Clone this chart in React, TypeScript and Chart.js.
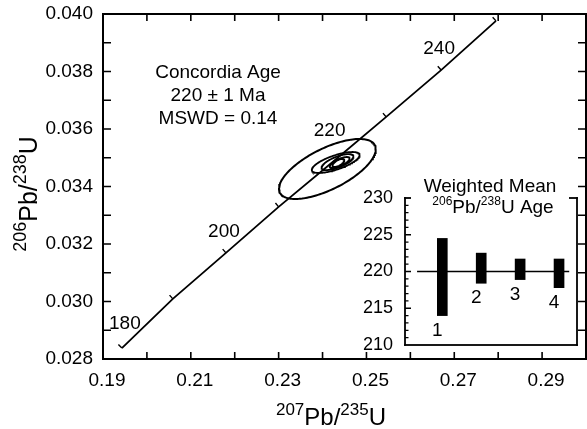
import React, { useEffect, useRef } from "react";
import { Chart, registerables } from "chart.js";
Chart.register(...registerables);

const FONT = "'Liberation Sans', Arial, Helvetica, sans-serif";

// Concordia curve (age in Ma -> 207Pb/235U, 206Pb/238U)
const concordiaAges = [180, 190, 200, 210, 220, 230, 240, 250];
const concordiaX = [0.1943, 0.2059, 0.218, 0.23, 0.2423, 0.2545, 0.267, 0.2795];
const concordiaY = [0.02838, 0.03009, 0.03169, 0.03329, 0.03485, 0.03642, 0.03805, 0.03976];
const concordiaLabelAges = [180, 200, 220, 240];

// Error ellipses: centre, half-width (x), half-height (y), correlation
const ellipseCx = [0.2411, 0.243, 0.2434, 0.2439, 0.2436];
const ellipseCy = [0.03461, 0.034835, 0.03485, 0.034835, 0.03482];
const ellipseHx = [0.01102, 0.00545, 0.00364, 0.00227, 0.00136];
const ellipseHy = [0.001043, 0.000365, 0.000278, 0.000191, 0.000139];
const ellipseRho = [0.66, 0.7, 0.7, 0.7, 0.6];

// Axis tick labels
const xTickLabels = ["0.19", "0.21", "0.23", "0.25", "0.27", "0.29"];
const yTickLabels = ["0.028", "0.030", "0.032", "0.034", "0.036", "0.038", "0.040"];

// Inset: weighted mean 206Pb/238U ages
const grainLabels = ["1", "2", "3", "4"];
const grainLow = [214, 218.4, 218.9, 217.8];
const grainHigh = [224.5, 222.5, 221.7, 221.7];
const weightedMean = 220;
const meanLineFrom = 0.48;
const meanLineTo = 4.39;
const insetTickLabels = ["210", "215", "220", "225", "230"];

const annotationLines = ["Concordia Age", "220 \u00b1 1 Ma", "MSWD = 0.14"];

// Layout of the inset box inside the canvas (pixels)
const INSET = { left: 405, right: 577, top: 198, bottom: 345 };

type Part = { t: string; sup?: boolean };

function drawRich(ctx: CanvasRenderingContext2D, parts: Part[], x: number, y: number, big: number, small: number, rise: number) {
  let total = 0;
  const widths = parts.map((p) => {
    ctx.font = `${p.sup ? small : big}px ${FONT}`;
    const w = ctx.measureText(p.t).width;
    total += w;
    return w;
  });
  let cx = x - total / 2;
  ctx.textAlign = "left";
  ctx.textBaseline = "alphabetic";
  parts.forEach((p, i) => {
    ctx.font = `${p.sup ? small : big}px ${FONT}`;
    ctx.fillText(p.t, cx, p.sup ? y - rise : y);
    cx += widths[i];
  });
}

function ellipsePoints(i: number) {
  const pts: { x: number; y: number }[] = [];
  const rho = ellipseRho[i];
  const s = Math.sqrt(1 - rho * rho);
  const n = 160;
  for (let k = 0; k <= n; k++) {
    const t = (2 * Math.PI * k) / n;
    pts.push({
      x: ellipseCx[i] + ellipseHx[i] * Math.cos(t),
      y: ellipseCy[i] + ellipseHy[i] * (rho * Math.cos(t) + s * Math.sin(t)),
    });
  }
  return pts;
}

function frame(ctx: CanvasRenderingContext2D, a: any, w: number) {
  const h = w / 2;
  ctx.fillRect(a.left - h, a.top - h, a.right - a.left + w, w);
  ctx.fillRect(a.left - h, a.bottom - h, a.right - a.left + w, w);
  ctx.fillRect(a.left - h, a.top - h, w, a.bottom - a.top + w);
  ctx.fillRect(a.right - h, a.top - h, w, a.bottom - a.top + w);
}

const decor = {
  id: "decor",
  afterLayout(chart: any) {
    const xi = chart.scales.xi;
    const yi = chart.scales.yi;
    xi.left = INSET.left;
    xi.right = INSET.right;
    xi.width = INSET.right - INSET.left;
    xi.configure();
    yi.top = INSET.top;
    yi.bottom = INSET.bottom;
    yi.height = INSET.bottom - INSET.top;
    yi.configure();
  },
  beforeDatasetsDraw(chart: any) {
    const ctx: CanvasRenderingContext2D = chart.ctx;
    ctx.save();
    ctx.fillStyle = "#ffffff";
    ctx.fillRect(INSET.left, INSET.top, INSET.right - INSET.left, INSET.bottom - INSET.top);
    ctx.restore();
  },
  afterDatasetsDraw(chart: any) {
    const ctx: CanvasRenderingContext2D = chart.ctx;
    const a = chart.chartArea;
    ctx.save();
    ctx.strokeStyle = "#000000";
    ctx.lineWidth = 2;
    ctx.strokeRect(a.left, a.top, a.right - a.left, a.bottom - a.top);
    ctx.restore();
  },
  afterDraw(chart: any) {
    const ctx: CanvasRenderingContext2D = chart.ctx;
    const a = chart.chartArea;
    const x = chart.scales.x;
    const y = chart.scales.y;
    const xi = chart.scales.xi;
    const yi = chart.scales.yi;
    ctx.save();
    ctx.strokeStyle = "#000";
    ctx.fillStyle = "#000";
    frame(ctx, a, 2);
    // inward ticks
    ctx.lineWidth = 1.6;
    ctx.beginPath();
    x.ticks.forEach((t: any) => {
      const px = x.getPixelForValue(t.value);
      if (px <= a.left + 1 || px >= a.right - 1) return;
      ctx.moveTo(px, a.bottom);
      ctx.lineTo(px, a.bottom - 7);
      ctx.moveTo(px, a.top);
      ctx.lineTo(px, a.top + 7);
    });
    y.ticks.forEach((t: any) => {
      const py = y.getPixelForValue(t.value);
      if (py <= a.top + 1 || py >= a.bottom - 1) return;
      ctx.moveTo(a.left, py);
      ctx.lineTo(a.left + 8, py);
      ctx.moveTo(a.right, py);
      ctx.lineTo(a.right - 8, py);
    });
    ctx.stroke();
    // concordia age marks
    ctx.lineWidth = 1.4;
    ctx.beginPath();
    concordiaAges.forEach((age, i) => {
      if (age === 220) return;
      const px = x.getPixelForValue(concordiaX[i]);
      const py = y.getPixelForValue(concordiaY[i]);
      const j = i < concordiaAges.length - 1 ? i + 1 : i - 1;
      let dx = x.getPixelForValue(concordiaX[j]) - px;
      let dy = y.getPixelForValue(concordiaY[j]) - py;
      if (j < i) { dx = -dx; dy = -dy; }
      const len = Math.hypot(dx, dy);
      const nx = dy / len;
      const ny = -dx / len;
      const sx = ny < 0 ? nx : -nx;
      const sy = ny < 0 ? ny : -ny;
      ctx.moveTo(px, py);
      ctx.lineTo(px + sx * 5, py + sy * 5);
    });
    ctx.stroke();
    // age labels
    ctx.font = `19px ${FONT}`;
    ctx.textAlign = "center";
    ctx.textBaseline = "middle";
    concordiaLabelAges.forEach((age) => {
      const i = concordiaAges.indexOf(age);
      const px = x.getPixelForValue(concordiaX[i]);
      const py = y.getPixelForValue(concordiaY[i]);
      const off = age === 220 ? [-3, -31] : age === 180 ? [3, -24] : [-2, -21];
      ctx.fillText(String(age), px + off[0], py + off[1]);
    });
    // annotation block
    annotationLines.forEach((s, k) => {
      ctx.fillText(s, a.left + 115, a.top + 59 + k * 23);
    });
    // axis titles
    drawRich(ctx, [{ t: "207", sup: true }, { t: "Pb/" }, { t: "235", sup: true }, { t: "U" }], 331, 425, 24, 17, 10);
    ctx.save();
    ctx.translate(37, 194);
    ctx.rotate(-Math.PI / 2);
    drawRich(ctx, [{ t: "206", sup: true }, { t: "Pb/" }, { t: "238", sup: true }, { t: "U" }], 0, 0, 25, 18, 11);
    ctx.restore();

    // ---- inset ----
    ctx.fillStyle = "#000";
    frame(ctx, INSET, 1.8);
    ctx.lineWidth = 1.3;
    ctx.beginPath();
    for (let v = 211; v < 230; v++) {
      const py = yi.getPixelForValue(v);
      ctx.moveTo(INSET.left, py);
      ctx.lineTo(INSET.left + (v % 5 === 0 ? 6 : 3.5), py);
    }
    ctx.stroke();
    // gap in the inset's top border for its title
    ctx.fillStyle = "#ffffff";
    ctx.fillRect(INSET.left + 6, INSET.top - 3, INSET.right - INSET.left - 14, 6);
    ctx.fillStyle = "#000";
    ctx.font = `19px ${FONT}`;
    ctx.textAlign = "center";
    ctx.textBaseline = "alphabetic";
    ctx.fillText("Weighted Mean", INSET.left + 85, INSET.top - 6);
    drawRich(ctx, [{ t: "206", sup: true }, { t: "Pb/" }, { t: "238", sup: true }, { t: "U Age" }], INSET.left + 88, INSET.top + 15, 19, 12, 8);
    // inset y tick labels
    ctx.font = `18px ${FONT}`;
    ctx.textAlign = "right";
    ctx.textBaseline = "middle";
    insetTickLabels.forEach((s) => {
      ctx.fillText(s, INSET.left - 12, yi.getPixelForValue(Number(s)));
    });
    // grain labels
    ctx.font = `19px ${FONT}`;
    ctx.textAlign = "center";
    grainLabels.forEach((g, i) => {
      const px = xi.getPixelForValue(i + 1);
      const py = yi.getPixelForValue(grainLow[i]);
      ctx.fillText(g, px, py + 15);
    });
    ctx.restore();
  },
};

export default function App() {
  const mainRef = useRef<HTMLCanvasElement>(null);

  useEffect(() => {
    const datasets: any[] = [
      {
        label: "Concordia",
        data: concordiaX.map((v, i) => ({ x: v, y: concordiaY[i] })),
        showLine: true,
        borderColor: "#000",
        borderWidth: 1.8,
        pointRadius: 0,
        xAxisID: "x",
        yAxisID: "y",
      },
      ...ellipseCx.map((_, i) => ({
        label: `Ellipse ${i + 1}`,
        data: ellipsePoints(i),
        showLine: true,
        borderColor: "#000",
        borderWidth: i === 0 ? 2 : 1.8,
        pointRadius: 0,
        xAxisID: "x",
        yAxisID: "y",
      })),
      {
        type: "bar",
        label: "Grains",
        data: grainLabels.map((_, i) => ({ x: i + 1, y: [grainLow[i], grainHigh[i]] })),
        backgroundColor: "#000",
        borderWidth: 0,
        barThickness: 10,
        xAxisID: "xi",
        yAxisID: "yi",
      },
      {
        type: "line",
        label: "Weighted mean",
        data: [
          { x: meanLineFrom, y: weightedMean },
          { x: meanLineTo, y: weightedMean },
        ],
        borderColor: "#000",
        borderWidth: 1.5,
        pointRadius: 0,
        showLine: true,
        xAxisID: "xi",
        yAxisID: "yi",
      },
    ];

    const main = new Chart(mainRef.current as HTMLCanvasElement, {
      type: "scatter",
      data: { datasets },
      options: {
        responsive: false,
        animation: false,
        devicePixelRatio: 1,
        layout: { padding: { top: 14, right: 1, left: 0, bottom: 0 } },
        plugins: { legend: { display: false }, tooltip: { enabled: false } },
        scales: {
          x: {
            type: "linear",
            axis: "x",
            position: "bottom",
            min: 0.19,
            max: 0.3,
            afterFit: (s: any) => { s.height = 70; s.paddingLeft = 0; s.paddingRight = 0; },
            grid: { display: false, drawTicks: false },
            border: { display: true, color: "#000", width: 2 },
            ticks: {
              stepSize: 0.01,
              autoSkip: false,
              maxRotation: 0,
              padding: 10,
              labelOffset: 4,
              color: "#000",
              font: { family: FONT, size: 19 },
              callback: (v: any) => {
                const s = Number(v).toFixed(2);
                return xTickLabels.includes(s) ? s : "";
              },
            },
          },
          y: {
            type: "linear",
            axis: "y",
            position: "left",
            min: 0.028,
            max: 0.04,
            afterFit: (s: any) => { s.width = 103; s.paddingTop = 0; s.paddingBottom = 0; },
            grid: { display: false, drawTicks: false },
            border: { display: true, color: "#000", width: 2 },
            ticks: {
              stepSize: 0.001,
              autoSkip: false,
              padding: 10,
              color: "#000",
              font: { family: FONT, size: 19 },
              callback: (v: any) => {
                const s = Number(v).toFixed(3);
                return yTickLabels.includes(s) ? s : "";
              },
            },
          },
          xi: {
            type: "linear",
            axis: "x",
            position: "bottom",
            min: 0.17,
            max: 4.59,
            offset: false,
            display: false,
          },
          yi: {
            type: "linear",
            axis: "y",
            position: "left",
            min: 210,
            max: 230,
            display: false,
          },
        },
      } as any,
      plugins: [decor],
    });

    return () => {
      main.destroy();
    };
  }, []);

  return (
    <div style={{ position: "fixed", left: 0, top: 0, width: 587, height: 429, background: "#fff", overflow: "hidden" }}>
      <canvas ref={mainRef} width={587} height={429} style={{ position: "absolute", left: 0, top: 0 }} />
    </div>
  );
}
